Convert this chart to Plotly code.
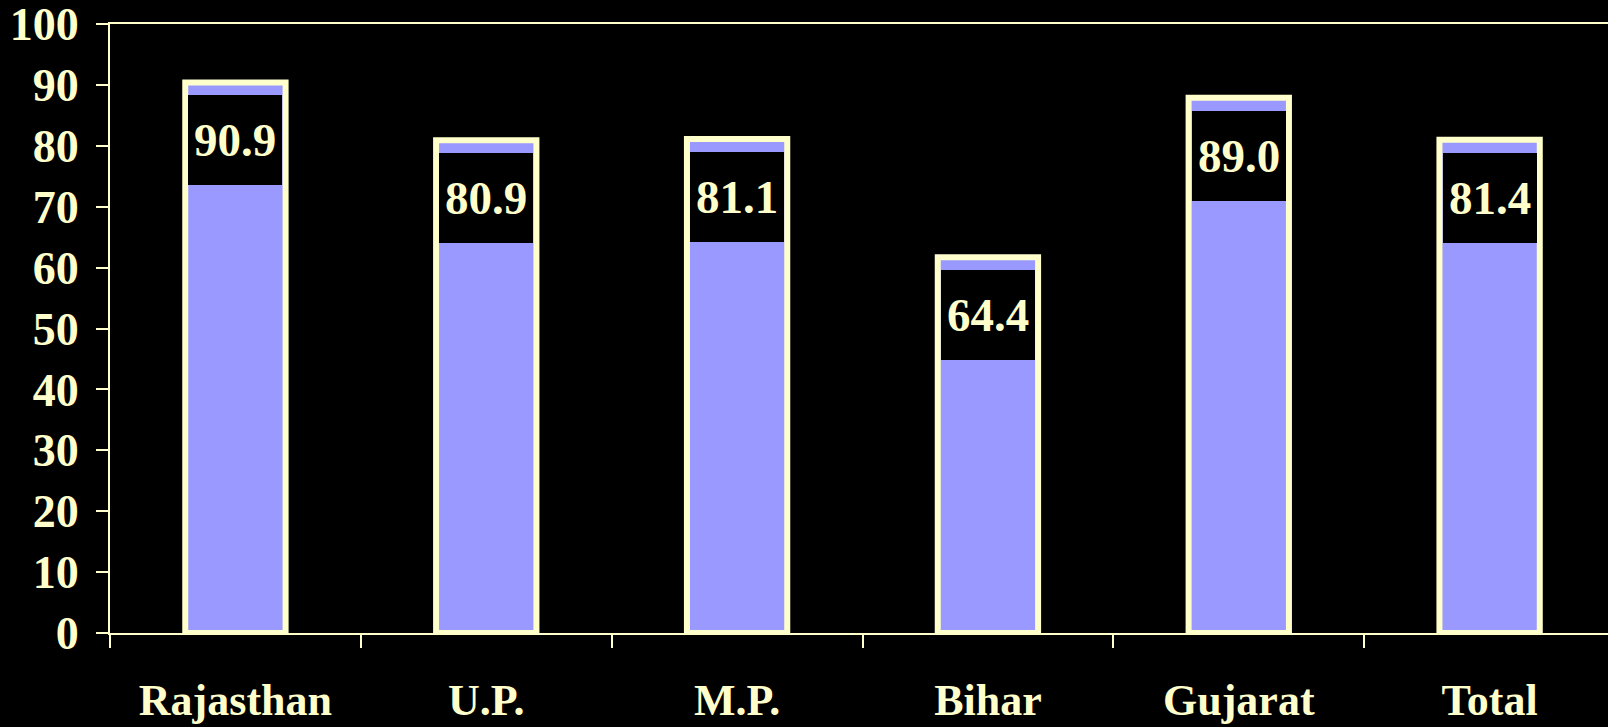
import plotly.graph_objects as go

# data
states = ["Rajasthan", "U.P.", "M.P.", "Bihar", "Gujarat", "Total"]
bar_values = [90.4, 80.9, 81.1, 61.7, 87.9, 81.0]   # bar heights as drawn
label_text = ["90.9", "80.9", "81.1", "64.4", "89.0", "81.4"]  # printed labels
y_ticks = [0, 10, 20, 30, 40, 50, 60, 70, 80, 90, 100]

CREAM = "#FFFFCC"
LAVENDER = "#9999FF"
FONT = "Liberation Serif"

fig = go.Figure()

fig.add_trace(go.Bar(
    x=states,
    y=bar_values,
    width=0.4,
    marker=dict(color=LAVENDER, line=dict(color=CREAM, width=6)),
    hoverinfo="skip",
))

# black boxed value labels sitting just inside the top of each bar
for s, v, t in zip(states, bar_values, label_text):
    fig.add_annotation(
        x=s, y=v, xref="x", yref="y",
        text=t,
        showarrow=False,
        yanchor="top",
        yshift=-13,
        width=94,
        height=90,
        bgcolor="black",
        borderwidth=0,
        borderpad=0,
        font=dict(family=FONT, size=47, color=CREAM, weight="bold"),
    )

fig.update_layout(
    width=1608,
    height=727,
    paper_bgcolor="black",
    plot_bgcolor="black",
    margin=dict(l=110, r=0, t=24, b=94),
    showlegend=False,
    bargap=0.6,
)

fig.update_xaxes(
    type="category",
    automargin=False,
    range=[-0.5, 5.472],
    tickson="boundaries",
    ticks="outside",
    ticklen=13,
    tickwidth=2,
    tickcolor=CREAM,
    showline=True,
    linecolor=CREAM,
    linewidth=2,
    mirror=True,
    showgrid=False,
    ticklabelstandoff=27,
    ticklabeloverflow="allow",
    tickfont=dict(family=FONT, size=44, color=CREAM, weight="bold"),
)

fig.update_yaxes(
    automargin=False,
    range=[0, 100],
    tickvals=y_ticks,
    ticks="outside",
    ticklen=12,
    tickwidth=2,
    tickcolor=CREAM,
    showline=True,
    linecolor=CREAM,
    linewidth=2,
    showgrid=False,
    zeroline=False,
    ticklabelstandoff=8,
    ticklabeloverflow="allow",
    tickfont=dict(family=FONT, size=46, color=CREAM, weight="bold"),
)

# drop the default body margin so the figure fills the window exactly
fig.write_html(
    "out.html",
    config={"displayModeBar": False},
    post_script="document.body.style.margin='0px';document.body.style.overflow='hidden';",
)
